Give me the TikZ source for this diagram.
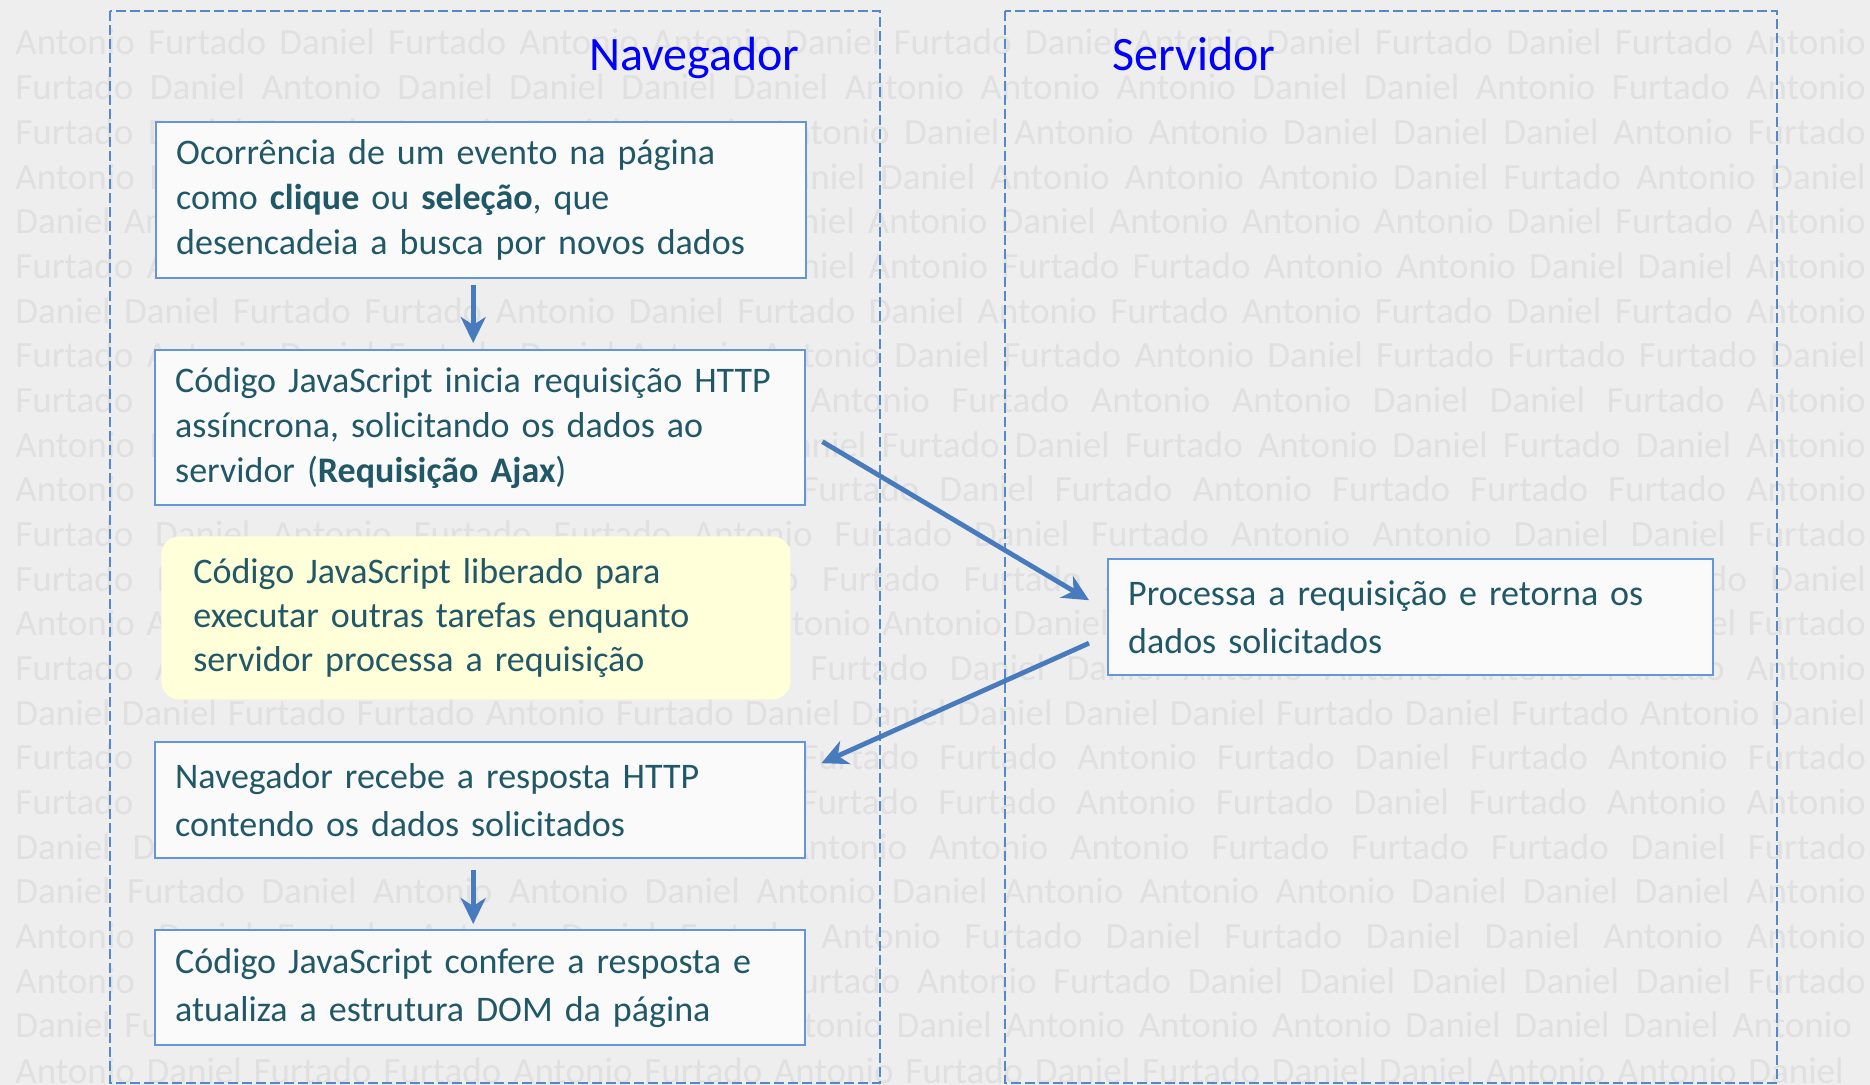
\documentclass[tikz,border=0pt]{standalone}
\usepackage{fontspec}
\setmainfont{Carlito}
\usetikzlibrary{arrows.meta,calc}

\definecolor{corfundo}{RGB}{238,238,238}
\definecolor{cormarca}{RGB}{224,224,224}
\definecolor{cortexto}{RGB}{33,88,104}
\definecolor{corborda}{RGB}{100,150,220}
\definecolor{corseta}{RGB}{72,122,190}
\definecolor{corlinha}{RGB}{85,135,205}
\definecolor{coramarelo}{RGB}{255,255,218}
\definecolor{corcaixa}{RGB}{250,250,250}

\newcommand{\linhamarca}[2][925.5pt]{\hbox to #1{\spaceskip=4pt plus 1fil\relax #2}}

\tikzset{
  marca/.style={text=cormarca, font=\fontsize{18.5pt}{22pt}\selectfont, anchor=base west, inner sep=0pt},
  raia/.style={draw=corlinha, line width=0.8pt, dash pattern=on 5pt off 2pt},
  titulo/.style={text=blue, font=\fontsize{24pt}{28pt}\selectfont, anchor=base west, inner sep=0pt},
  caixa/.style={draw=corborda, line width=1.2pt, fill=corcaixa, anchor=north west, inner xsep=10pt,
    text width=305pt, align=left, text=cortexto, font=\fontsize{18pt}{22.5pt}\selectfont},
  duas/.style={font=\fontsize{18pt}{24pt}\selectfont},
  nota/.style={fill=coramarelo, rounded corners=9pt, anchor=north west, inner xsep=16pt,
    text width=282.5pt, align=left, text=cortexto, font=\fontsize{18pt}{22pt}\selectfont},
  seta/.style={draw=corseta, line width=2.4pt, -{Stealth[length=13pt,width=12.5pt,inset=4pt]}}
}

\begin{document}
\begin{tikzpicture}[x=0.5pt,y=-0.5pt]
    \useasboundingbox (0,0) rectangle (1870,1085);
    \fill[corfundo] (0,0) rectangle (1870,1085);
    % marca d'agua ao fundo
    \foreach \linha [count=\r] in {
        {Antonio Furtado Daniel Furtado Antonio Antonio Daniel Furtado Daniel Antonio Daniel Furtado Daniel Furtado Antonio},
        {Furtado Daniel Antonio Daniel Daniel Daniel Daniel Antonio Antonio Antonio Daniel Daniel Antonio Furtado Antonio},
        {Furtado Daniel Furtado Antonio Daniel Antonio Antonio Daniel Antonio Antonio Daniel Daniel Daniel Antonio Furtado},
        {Antonio Furtado Daniel Antonio Furtado Daniel Daniel Daniel Antonio Antonio Antonio Daniel Furtado Antonio Daniel},
        {Daniel Antonio Furtado Daniel Antonio Furtado Daniel Antonio Daniel Antonio Antonio Antonio Daniel Furtado Antonio},
        {Furtado Antonio Daniel Furtado Antonio Daniel Daniel Antonio Furtado Furtado Antonio Antonio Daniel Daniel Antonio},
        {Daniel Daniel Furtado Furtado Antonio Daniel Furtado Daniel Antonio Furtado Antonio Furtado Daniel Furtado Antonio},
        {Furtado Antonio Daniel Furtado Daniel Antonio Antonio Daniel Furtado Antonio Daniel Furtado Furtado Furtado Daniel},
        {Furtado Daniel Antonio Furtado Antonio Daniel Antonio Furtado Antonio Antonio Daniel Daniel Furtado Antonio},
        {Antonio Furtado Daniel Antonio Daniel Furtado Daniel Furtado Daniel Furtado Antonio Daniel Furtado Daniel Antonio},
        {Antonio Daniel Furtado Antonio Daniel Furtado Furtado Daniel Furtado Antonio Furtado Furtado Furtado Antonio},
        {Furtado Daniel Antonio Furtado Furtado Antonio Furtado Daniel Furtado Antonio Antonio Daniel Daniel Furtado},
        {Furtado Furtado Daniel Antonio Daniel Antonio Furtado Furtado Antonio Daniel Antonio Daniel Furtado Daniel},
        {Antonio Antonio Furtado Daniel Antonio Daniel Antonio Antonio Daniel Furtado Antonio Antonio Furtado Daniel Furtado},
        {Furtado Antonio Daniel Furtado Antonio Daniel Furtado Daniel Daniel Antonio Antonio Antonio Furtado Antonio},
        {Daniel Daniel Furtado Furtado Antonio Furtado Daniel Daniel Daniel Daniel Daniel Furtado Daniel Furtado Antonio Daniel},
        {Furtado Daniel Antonio Furtado Daniel Antonio Furtado Furtado Antonio Furtado Daniel Furtado Antonio Furtado},
        {Furtado Antonio Daniel Antonio Furtado Daniel Furtado Furtado Antonio Furtado Daniel Furtado Antonio Antonio},
        {Daniel Daniel Furtado Furtado Antonio Daniel Antonio Antonio Antonio Furtado Furtado Furtado Daniel Furtado},
        {Daniel Furtado Daniel Antonio Antonio Daniel Antonio Daniel Antonio Antonio Antonio Daniel Daniel Daniel Antonio},
        {Antonio Daniel Furtado Antonio Daniel Furtado Antonio Furtado Daniel Furtado Daniel Daniel Antonio Antonio},
        {Antonio Furtado Daniel Antonio Daniel Antonio Furtado Antonio Furtado Daniel Daniel Daniel Daniel Daniel Furtado},
        {Daniel Furtado Antonio Daniel Furtado Antonio Antonio Daniel Antonio Antonio Antonio Daniel Daniel Daniel Antonio}
    } {
        \node[marca] (marca\r) at (15, {55+(\r-1)*44.68}) {\linhamarca{\linha}};
    }
    \node[marca] (marca24) at (15, 1083) {\linhamarca[914.5pt]{Antonio Daniel Furtado Furtado Antonio Furtado Antonio Furtado Daniel Furtado Daniel Daniel Antonio Antonio Daniel}};

    % raias
    \draw[raia] (110,11) rectangle (880,1083);
    \draw[raia] (1005,11) rectangle (1777,1083);
    \node[titulo] (navegador) at (589,71) {Navegador};
    \node[titulo] (servidor) at (1112,71) {Servidor};

    % navegador
    \node[caixa, minimum height=78pt] (evento) at (155,121)
        {Ocorrência de um evento na página\\ como \textbf{clique} ou \textbf{seleção}, que\\ desencadeia a busca por novos dados};
    \node[caixa, minimum height=77.5pt] (requisicao) at (154,349)
        {Código JavaScript inicia requisição HTTP\\ assíncrona, solicitando os dados ao\\ servidor (\textbf{Requisição Ajax})};
    \node[nota, minimum height=81.5pt] (liberado) at (161,536)
        {Código JavaScript liberado para\\ executar outras tarefas enquanto\\ servidor processa a requisição};
    \node[caixa, duas, minimum height=58pt] (resposta) at (154,741)
        {Navegador recebe a resposta HTTP\\ contendo os dados solicitados};
    \node[caixa, duas, minimum height=57.5pt] (atualiza) at (154,929)
        {Código JavaScript confere a resposta e\\ atualiza a estrutura DOM da página};

    % servidor
    \node[caixa, duas, text width=282.5pt, minimum height=58pt] (processa) at (1107,558)
        {Processa a requisição e retorna os\\ dados solicitados};

    % setas
    \draw[seta] ($(evento.south)+(-8,6)$) -- ($(requisicao.north)+(-7,-6)$);
    \draw[seta] ($(requisicao.east)+(16,14)$) -- ($(processa.west)+(-18,-17)$);
    \draw[seta] ($(processa.west)+(-18,26)$) -- ($(resposta.east)+(15,-37)$);
    \draw[seta] ($(resposta.south)+(-7,11)$) -- ($(atualiza.north)+(-7,-5)$);
\end{tikzpicture}
\end{document}
